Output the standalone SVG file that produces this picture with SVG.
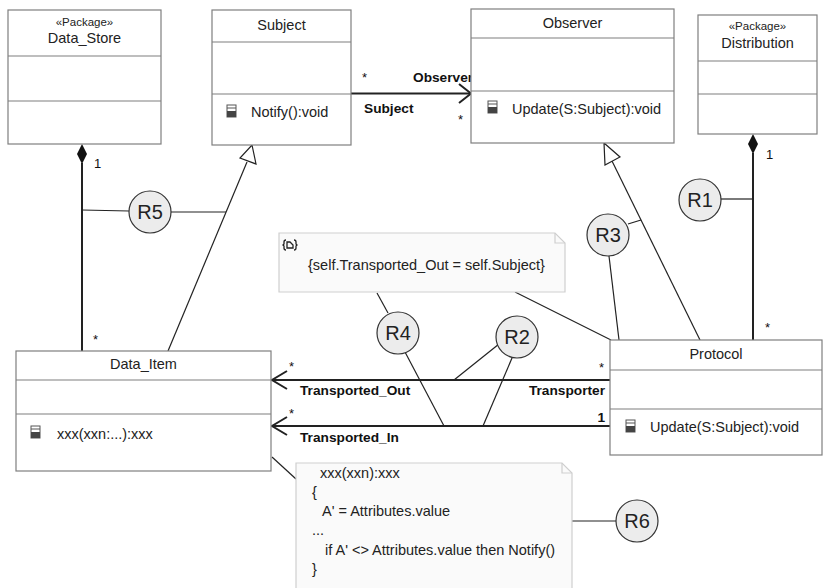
<svg xmlns="http://www.w3.org/2000/svg" width="824" height="588" viewBox="0 0 824 588">
<defs>
<style>
.cls{fill:#fff;stroke:#7f7f7f;stroke-width:1.2}
.sep{stroke:#7f7f7f;stroke-width:1.2}
.t{font-family:"Liberation Sans",Arial,sans-serif;font-size:14.5px;fill:#222}
.st{font-family:"Liberation Sans",Arial,sans-serif;font-size:11.5px;fill:#222}
.mu{font-family:"Liberation Sans",Arial,sans-serif;font-size:13px;fill:#111}
.b{font-family:"Liberation Sans",Arial,sans-serif;font-size:13.7px;font-weight:bold;fill:#111}
.ln{stroke:#222;stroke-width:1.2;fill:none}
.tl{stroke:#222;stroke-width:2;fill:none}
.rc{fill:#ececec;stroke:#333;stroke-width:1.2}
.rt{font-family:"Liberation Sans",Arial,sans-serif;font-size:20px;fill:#222;text-anchor:middle}
.note{fill:#fafafa;stroke:#cfcfcf;stroke-width:1.2}
.nt{font-family:"Liberation Sans",Arial,sans-serif;font-size:14.5px;fill:#222}
</style>
<g id="opicon"><rect x="0" y="0" width="9" height="12" fill="#fff" stroke="#555" stroke-width="1"/><rect x="0" y="6" width="9" height="6" fill="#444"/><line x1="0" y1="3" x2="9" y2="3" stroke="#555" stroke-width="1"/></g>
</defs>
<rect width="824" height="588" fill="#fff"/>

<g id="connectors">
<!-- Subject -> Observer -->
<line class="tl" x1="351" y1="93.5" x2="471" y2="93.5"/>
<polyline class="tl" points="459,84 471,93.5 459,103"/>
<text class="mu" x="362" y="82">*</text>
<text class="b" x="413" y="82">Observer</text>
<text class="b" x="364" y="113">Subject</text>
<text class="mu" x="458" y="124">*</text>
<!-- Data_Store composition -->
<line class="tl" x1="82" y1="163" x2="82" y2="351"/>
<polygon points="82,144 87,154 82,164 77,154" fill="#111"/>
<text class="mu" x="94" y="168">1</text>
<text class="mu" x="93" y="344">*</text>
<!-- Distribution composition -->
<line class="tl" x1="753" y1="153" x2="753" y2="340"/>
<polygon points="753,134 758,144 753,154 748,144" fill="#111"/>
<text class="mu" x="766" y="159">1</text>
<text class="mu" x="765" y="332">*</text>
<!-- Generalizations -->
<line class="ln" x1="168" y1="351" x2="247" y2="162"/>
<polygon points="252,145 256,164 240,158" fill="#fff" stroke="#222" stroke-width="1.2"/>
<line class="ln" x1="700" y1="340" x2="612" y2="161"/>
<polygon points="604,143 620,157 605,165" fill="#fff" stroke="#222" stroke-width="1.2"/>
<!-- Transported_Out -->
<line class="tl" x1="272" y1="380" x2="610" y2="380"/>
<polyline class="tl" points="287,371 272,380 287,389"/>
<text class="mu" x="289" y="371">*</text>
<text class="b" x="300" y="395">Transported_Out</text>
<text class="b" x="605" y="395" text-anchor="end">Transporter</text>
<text class="mu" x="599" y="372">*</text>
<!-- Transported_In -->
<line class="tl" x1="272" y1="426" x2="610" y2="426"/>
<polyline class="tl" points="287,417 272,426 287,435"/>
<text class="mu" x="289" y="418">*</text>
<text class="b" x="300" y="442">Transported_In</text>
<text class="b" x="605" y="422" text-anchor="end">1</text>
<!-- note links -->
<line class="ln" x1="515" y1="292" x2="611" y2="340"/>
<line class="ln" x1="272" y1="457" x2="296" y2="479"/>
<!-- R5 -->
<line class="ln" x1="82" y1="210" x2="129" y2="211"/>
<line class="ln" x1="171" y1="212" x2="226" y2="212"/>
<!-- R1 -->
<line class="ln" x1="721" y1="199" x2="753" y2="199"/>
<!-- R3 -->
<line class="ln" x1="628" y1="224" x2="641" y2="220"/>
<line class="ln" x1="609" y1="256" x2="619" y2="340"/>
<!-- R4 -->
<line class="ln" x1="377" y1="293" x2="388" y2="313"/>
<line class="ln" x1="405" y1="352" x2="444" y2="426"/>
<!-- R2 -->
<line class="ln" x1="499" y1="344" x2="454" y2="380"/>
<line class="ln" x1="512" y1="358" x2="483" y2="426"/>
<!-- R6 -->
<line class="ln" x1="572" y1="521" x2="616" y2="521"/>
</g>

<g id="Data_Store">
<rect class="cls" x="8" y="10" width="153" height="134"/>
<line class="sep" x1="8" y1="56" x2="161" y2="56"/>
<line class="sep" x1="8" y1="101" x2="161" y2="101"/>
<text class="st" x="84.5" y="26" text-anchor="middle">«Package»</text>
<text class="t" x="84.5" y="43" text-anchor="middle">Data_Store</text>
</g>

<g id="Subject">
<rect class="cls" x="212" y="10" width="139" height="135"/>
<line class="sep" x1="212" y1="42" x2="351" y2="42"/>
<line class="sep" x1="212" y1="94" x2="351" y2="94"/>
<text class="t" x="281.5" y="30" text-anchor="middle">Subject</text>
<use href="#opicon" x="227" y="105"/>
<text class="t" x="251" y="117">Notify():void</text>
</g>

<g id="Observer">
<rect class="cls" x="471" y="9" width="203" height="134"/>
<line class="sep" x1="471" y1="38" x2="674" y2="38"/>
<line class="sep" x1="471" y1="91" x2="674" y2="91"/>
<text class="t" x="572.5" y="28" text-anchor="middle">Observer</text>
<use href="#opicon" x="488" y="101"/>
<text class="t" x="512" y="113.5">Update(S:Subject):void</text>
</g>

<g id="Distribution">
<rect class="cls" x="698" y="15" width="119" height="119"/>
<line class="sep" x1="698" y1="61" x2="817" y2="61"/>
<line class="sep" x1="698" y1="94" x2="817" y2="94"/>
<text class="st" x="757.5" y="30" text-anchor="middle">«Package»</text>
<text class="t" x="757.5" y="48" text-anchor="middle">Distribution</text>
</g>

<g id="Data_Item">
<rect class="cls" x="16" y="351" width="255" height="120"/>
<line class="sep" x1="16" y1="380" x2="271" y2="380"/>
<line class="sep" x1="16" y1="414" x2="271" y2="414"/>
<text class="t" x="143.5" y="369" text-anchor="middle">Data_Item</text>
<use href="#opicon" x="31" y="426"/>
<text class="t" x="57" y="439">xxx(xxn:...):xxx</text>
</g>

<g id="Protocol">
<rect class="cls" x="610" y="340" width="212" height="115"/>
<line class="sep" x1="610" y1="370" x2="822" y2="370"/>
<line class="sep" x1="610" y1="409" x2="822" y2="409"/>
<text class="t" x="716" y="359" text-anchor="middle">Protocol</text>
<use href="#opicon" x="626" y="420"/>
<text class="t" x="650" y="432">Update(S:Subject):void</text>
</g>

<g id="Constraint_Note">
<path class="note" d="M279,233 H555 L565,243 V292 H279 Z"/>
<path d="M555,233 V243 H565" fill="none" stroke="#cfcfcf" stroke-width="1.2"/>
<g fill="none" stroke="#222" stroke-width="1.3">
<path d="M286,240 Q284,240 284,242 V244 L283,245 L284,246 V248 Q284,250 286,250"/>
<path d="M294,240 Q296,240 296,242 V244 L297,245 L296,246 V248 Q296,250 294,250"/>
<path d="M287,242 V248 H293 V245 L290,242 Z"/>
</g>
<text class="nt" x="308" y="270">{self.Transported_Out = self.Subject}</text>
</g>

<g id="Method_Note">
<path class="note" d="M296,463 H562 L572,473 V594 H296 Z"/>
<path d="M562,463 V473 H572" fill="none" stroke="#cfcfcf" stroke-width="1.2"/>
<text class="nt" x="320" y="478">xxx(xxn):xxx</text>
<text class="nt" x="312" y="497">{</text>
<text class="nt" x="322" y="516">A' = Attributes.value</text>
<text class="nt" x="312" y="535">...</text>
<text class="nt" x="325" y="555">if A' &lt;&gt; Attributes.value then Notify()</text>
<text class="nt" x="312" y="574">}</text>
</g>

<g id="R1"><circle class="rc" cx="700" cy="200" r="21"/><text class="rt" x="700" y="207">R1</text></g>
<g id="R2"><circle class="rc" cx="517" cy="337" r="21"/><text class="rt" x="517" y="344">R2</text></g>
<g id="R3"><circle class="rc" cx="608" cy="235" r="21"/><text class="rt" x="608" y="242">R3</text></g>
<g id="R4"><circle class="rc" cx="398" cy="333" r="21"/><text class="rt" x="398" y="340">R4</text></g>
<g id="R5"><circle class="rc" cx="150" cy="212" r="21"/><text class="rt" x="150" y="219">R5</text></g>
<g id="R6"><circle class="rc" cx="637" cy="521" r="21"/><text class="rt" x="637" y="528">R6</text></g>
</svg>
